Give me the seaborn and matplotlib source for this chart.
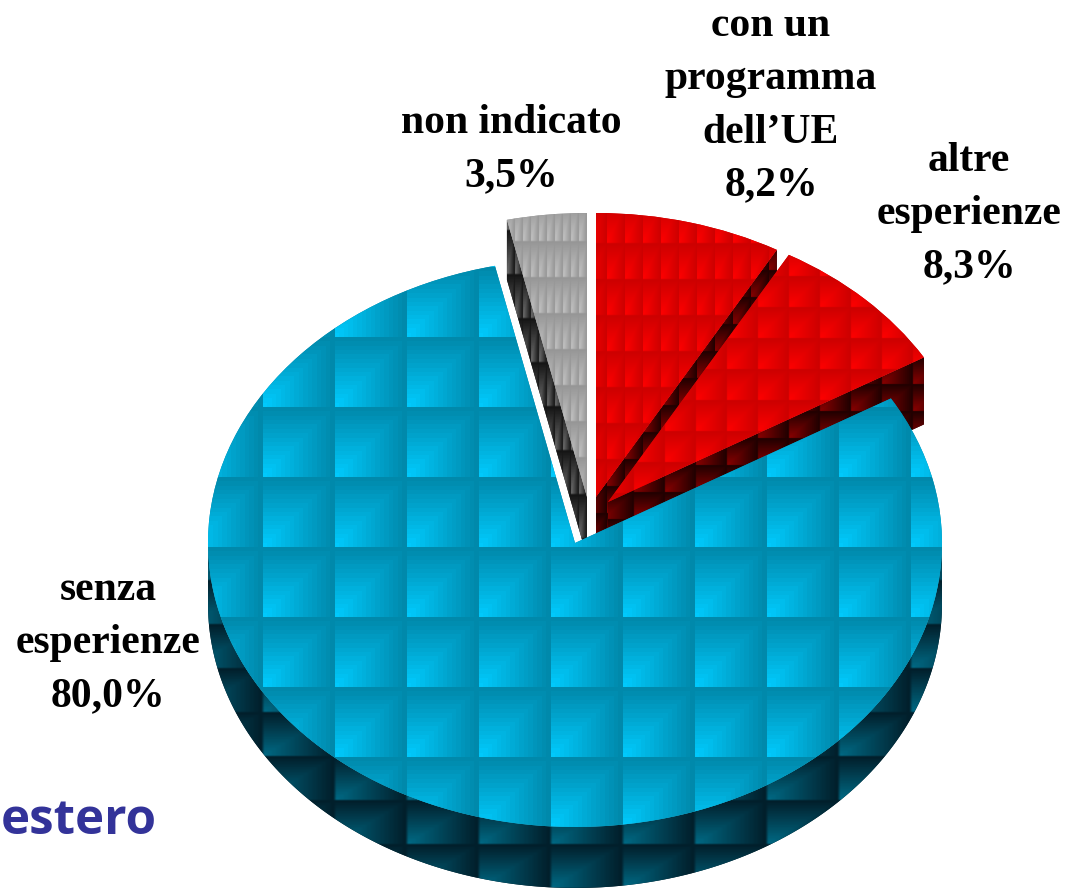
import numpy as np
import seaborn as sns
import matplotlib
matplotlib.use("Agg")
import matplotlib.pyplot as plt
from matplotlib.patches import Polygon

# order is clockwise from 12 o'clock
labels = ["con un\nprogramma\ndell’UE", "altre\nesperienze", "senza\nesperienze", "non indicato"]
values = [8.2, 8.3, 80.0, 3.5]
footer = "estero"

W, H = 1073, 891
CX, CY, RX, RY = 575, 543, 367, 284


def px(x):
    return (x - CX) / RX


def py(y):
    return (CY - y) / RY


# pixel layout of each slice
centers = [(596, 497), (608, 502), (575, 543), (587, 497)]
depths = [62, 67, 61, 60]
label_pos = [(771, 106), (969, 214), (108, 643), (511, 150)]
top_cells = [(18, 36, 607, 243), (31, 31, 789, 276), (72, 70, 263, 337), (8, 36, 523, 241)]
wall_cells = [(18, 27, 607, 243), (31, 27, 789, 276), (72, 44, 263, 668), (8, 44, 523, 230)]
top_cols = [("#cc0000", "#ff0000"), ("#cc0000", "#ff0000"), ("#0088aa", "#00ccff"), ("#969696", "#c4c4c4")]
wall_cols = [("#200000", "#8a0000"), ("#200000", "#8a0000"), ("#021e2a", "#006a85"), ("#141414", "#707070")]
draw_order = [3, 0, 1, 2]


def add_texture(ax, clip, cols, cell, z):
    cw, ch, x0, y0 = cell
    n = 16
    u, v = np.meshgrid((np.arange(n) + 0.5) / n, (np.arange(n) + 0.5) / n)
    t = np.minimum(v, 1 - u)
    pal = np.array(sns.blend_palette(cols, 64))
    tile = pal[np.clip((t * 63).astype(int), 0, 63)]
    xs = x0 - cw * int(np.ceil(x0 / cw))
    ys = y0 - ch * int(np.ceil(y0 / ch))
    nx = int(np.ceil((W - xs) / cw))
    ny = int(np.ceil((H - ys) / ch))
    im = ax.imshow(np.tile(tile, (ny, nx, 1)), origin="upper", aspect="auto", zorder=z,
                   extent=(px(xs), px(xs + nx * cw), py(ys + ny * ch), py(ys)))
    im.set_clip_path(clip)


def wall_points(i, wedge, depth):
    cx, cy = wedge.center
    d = depth / RY
    if i == 2:
        th = np.radians(np.linspace(-180, 0, 200))
        top = np.c_[cx + np.cos(th), cy + np.sin(th)]
        return np.vstack([top, (top - [0, d])[::-1]])
    a = np.radians(wedge.theta2 if i == 3 else wedge.theta1)
    edge = np.array([[cx, cy], [cx + np.cos(a), cy + np.sin(a)]])
    return np.vstack([edge, (edge - [0, d])[::-1]])


sns.set_theme(style="white")
fig = plt.figure(figsize=(W / 100, H / 100), dpi=100, facecolor="white")
ax = fig.add_axes([0, 0, 1, 1])

wedges, _ = ax.pie(values, startangle=90, counterclock=False, radius=1,
                   wedgeprops={"linewidth": 0})
ax.set_aspect("auto")

z = 2
for i in draw_order:
    w = wedges[i]
    w.set_center((px(centers[i][0]), py(centers[i][1])))
    wall = Polygon(wall_points(i, w, depths[i]), closed=True, facecolor=wall_cols[i][0],
                   linewidth=0, zorder=z)
    ax.add_patch(wall)
    add_texture(ax, wall, wall_cols[i], wall_cells[i], z + 0.5)
    w.set_facecolor(top_cols[i][0])
    w.set_zorder(z + 1)
    add_texture(ax, w, top_cols[i], top_cells[i], z + 1.5)
    z += 2

for i in range(len(labels)):
    txt = labels[i] + "\n" + f"{values[i]:.1f}".replace(".", ",") + "%"
    ax.text(px(label_pos[i][0]), py(label_pos[i][1]), txt, ha="center", va="center",
            family="Liberation Serif", weight="bold", fontsize=30, linespacing=1.52,
            color="black", zorder=30)

ax.text(px(1), py(821), footer, ha="left", va="center", family="Open Sans", weight="bold",
        fontsize=35.5, color="#333399", zorder=30)

ax.set_xlim(px(0), px(W))
ax.set_ylim(py(H), py(0))
ax.axis("off")

fig.savefig("out.png", dpi=100)
